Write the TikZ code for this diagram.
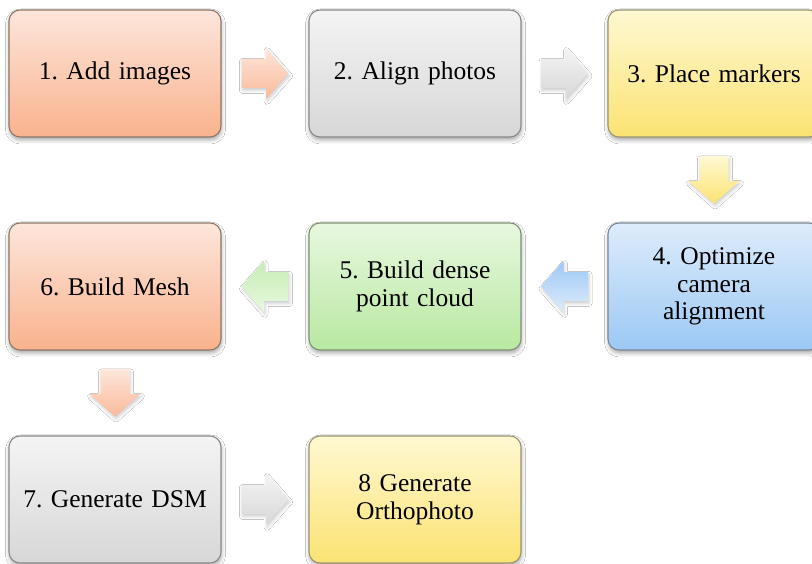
\documentclass[tikz,border=0pt]{standalone}
\usepackage{fontspec}
\setmainfont{Liberation Serif}
\usetikzlibrary{calc,shadows.blur}
\definecolor{peachT}{HTML}{FDE6DB}
\definecolor{peachB}{HTML}{F9B28D}
\definecolor{peachD}{HTML}{8E7666}
\definecolor{grayT}{HTML}{F4F4F4}
\definecolor{grayB}{HTML}{D7D7D7}
\definecolor{grayD}{HTML}{8A8A8A}
\definecolor{yelT}{HTML}{FFF8D2}
\definecolor{yelB}{HTML}{FBE372}
\definecolor{yelD}{HTML}{9A9470}
\definecolor{bluT}{HTML}{DEECFB}
\definecolor{bluB}{HTML}{9BC8F4}
\definecolor{bluD}{HTML}{7A8796}
\definecolor{grnT}{HTML}{E8F8DF}
\definecolor{grnB}{HTML}{B8E8A1}
\definecolor{grnD}{HTML}{7E9272}
\newcommand\blockarr[3]{%
  \begin{scope}[shift={(#1)},rotate=#2]
    \shade[#3] (-23.5,14.5) -- (1,14.5) -- (1,25.5) -- (23.5,0) -- (1,-25.5) -- (1,-14.5) -- (-23.5,-14.5) -- cycle;
  \end{scope}}
\begin{document}
\frenchspacing
\begin{tikzpicture}[x=1pt,y=1pt,
  stepbox/.style={rectangle, rounded corners=11pt, minimum width=212pt, minimum height=127pt,
    line width=1.1pt, align=center, text width=195pt,
    font=\rmfamily\fontsize{25.5}{27.5}\selectfont,
    blur shadow={shadow xshift=0.5pt, shadow yshift=-3pt, shadow blur radius=4pt, shadow opacity=35}},
  peachbox/.style={stepbox, top color=peachT, bottom color=peachB, draw=peachD},
  graybox/.style={stepbox, top color=grayT, bottom color=grayB, draw=grayD},
  yelbox/.style={stepbox, top color=yelT, bottom color=yelB, draw=yelD},
  blubox/.style={stepbox, top color=bluT, bottom color=bluB, draw=bluD},
  grnbox/.style={stepbox, top color=grnT, bottom color=grnB, draw=grnD},
  arrbase/.style={blur shadow={shadow xshift=1pt, shadow yshift=-2.5pt, shadow blur radius=3pt, shadow opacity=20}},
  peacharr/.style={arrbase, top color=peachT, bottom color=peachB!90},
  grayarr/.style={arrbase, top color=grayT, bottom color=grayB},
  yelarr/.style={arrbase, top color=yelT, bottom color=yelB},
  bluarr/.style={arrbase, top color=bluB, bottom color=bluT},
  grnarr/.style={arrbase, top color=grnB!80, bottom color=grnT},
]
\useasboundingbox (0,0) rectangle (812,564);
\clip (0,0) rectangle (812,564);
\fill[white] (0,0) rectangle (812,564);

\node[peachbox] (b1) at (115,490.5) {1. Add images};
\node[graybox]  (b2) at (415,490.5) {2. Align photos};
\node[yelbox]   (b3) at (714,490.5) {3. Place markers};
\node[blubox]   (b4) at (714,277.5) {4. Optimize\\camera\\alignment};
\node[grnbox]   (b5) at (415,277.5) {5. Build dense\\point cloud};
\node[peachbox] (b6) at (115,277.5) {6. Build Mesh};
\node[graybox]  (b7) at (115,64.5) {7. Generate DSM};
\node[yelbox]   (b8) at (415,64.5) {8 Generate\\Orthophoto};

\coordinate (m12) at ($(b1.east)!0.5!(b2.west)$);
\coordinate (m23) at ($(b2.east)!0.5!(b3.west)$);
\coordinate (m34) at ($(b3.south)!0.5!(b4.north)$);
\coordinate (m45) at ($(b4.west)!0.5!(b5.east)$);
\coordinate (m56) at ($(b5.west)!0.5!(b6.east)$);
\coordinate (m67) at ($(b6.south)!0.5!(b7.north)$);
\coordinate (m78) at ($(b7.east)!0.5!(b8.west)$);

\blockarr{m12}{0}{peacharr}
\blockarr{m23}{0}{grayarr}
\blockarr{m34}{-90}{yelarr}
\blockarr{m45}{180}{bluarr}
\blockarr{m56}{180}{grnarr}
\blockarr{m67}{-90}{peacharr}
\blockarr{m78}{0}{grayarr}
\end{tikzpicture}
\end{document}
